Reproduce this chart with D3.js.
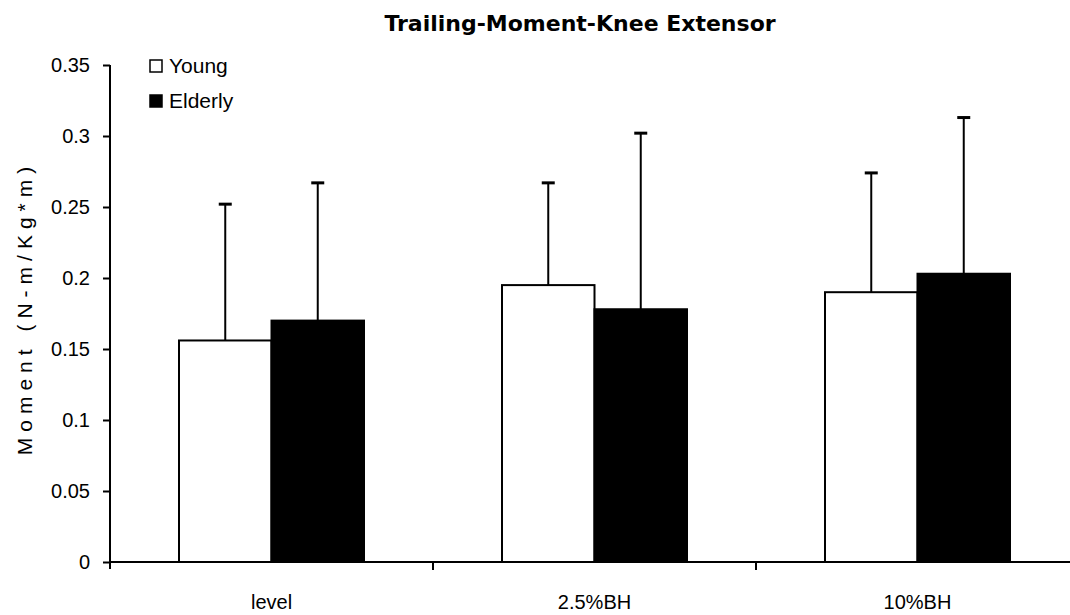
<!DOCTYPE html>
<html>
<head>
<meta charset="utf-8">
<script src="https://cdn.jsdelivr.net/npm/d3@7"></script>
<style>
  body { margin: 0; background: #fff; }
  svg { display: block; }
</style>
</head>
<body>
<script>
// data
var categories = ["level", "2.5%BH", "10%BH"]
var series     = ["Young", "Elderly"]
var young      = [0.156, 0.195, 0.190]
var elderly    = [0.170, 0.178, 0.203]
var youngSD    = [0.096, 0.072, 0.084]
var elderlySD  = [0.097, 0.124, 0.110]
var yTicks     = [0, 0.05, 0.1, 0.15, 0.2, 0.25, 0.3, 0.35]
var fills      = { Young: "#fff", Elderly: "#000" }

var W = 1070, H = 615
var font = "'Liberation Sans', Arial, sans-serif"

var svg = d3.select("body").append("svg")
    .attr("width", W)
    .attr("height", H)

var x0 = d3.scaleBand().domain(categories).range([110, 1079]).padding(0)
var x1 = d3.scaleBand().domain(series).range([0, x0.bandwidth()])
    .paddingInner(0).paddingOuter(0.746)
var y = d3.scaleLinear().domain([0, 0.35]).range([562, 65])

var rows = []
categories.forEach(function(c, i) {
    rows.push({ cat: c, s: "Young", v: young[i], sd: youngSD[i] })
    rows.push({ cat: c, s: "Elderly", v: elderly[i], sd: elderlySD[i] })
})

// error bars (drawn first so the bar outline sits on top)
var eb = svg.append("g").selectAll("g").data(rows).enter().append("g")
eb.append("line")
    .attr("x1", function(d) { return x0(d.cat) + x1(d.s) + x1.bandwidth() / 2 })
    .attr("x2", function(d) { return x0(d.cat) + x1(d.s) + x1.bandwidth() / 2 })
    .attr("y1", function(d) { return y(d.v) })
    .attr("y2", function(d) { return y(d.v + d.sd) })
    .style("stroke", "#000").style("stroke-width", 2)
eb.append("line")
    .attr("x1", function(d) { return x0(d.cat) + x1(d.s) + x1.bandwidth() / 2 - 6.5 })
    .attr("x2", function(d) { return x0(d.cat) + x1(d.s) + x1.bandwidth() / 2 + 6.5 })
    .attr("y1", function(d) { return y(d.v + d.sd) })
    .attr("y2", function(d) { return y(d.v + d.sd) })
    .style("stroke", "#000").style("stroke-width", 3)

// bars
svg.append("g").selectAll("rect").data(rows).enter().append("rect")
    .attr("x", function(d) { return x0(d.cat) + x1(d.s) })
    .attr("y", function(d) { return y(d.v) })
    .attr("width", x1.bandwidth())
    .attr("height", function(d) { return y(0) - y(d.v) })
    .style("fill", function(d) { return fills[d.s] })
    .style("stroke", "#000")
    .style("stroke-width", 2)

// y axis
var yAxis = svg.append("g")
    .attr("transform", "translate(110,0)")
    .call(d3.axisLeft(y).tickValues(yTicks).tickSize(7).tickPadding(13)
        .tickFormat(function(d) { return d3.format("")(+d.toFixed(2)) }))
yAxis.select(".domain").attr("d", "M0," + (y(0) + 7) + "V" + y(0.35)).style("stroke-width", 2)
yAxis.selectAll(".tick line").style("stroke-width", 2)
yAxis.selectAll("text").attr("font-family", font).attr("font-size", "20px").attr("fill", "#000")

// x axis
var xAxis = svg.append("g")
    .attr("transform", "translate(0,562)")
    .call(d3.axisBottom(x0).tickSize(0).tickPadding(33))
xAxis.select(".domain").attr("d", "M110,0H1070").style("stroke-width", 2)
xAxis.selectAll("text").attr("font-family", font).attr("font-size", "20px").attr("fill", "#000")
xAxis.selectAll(".sep").data(categories.slice(1)).enter().append("line")
    .attr("class", "sep")
    .attr("x1", function(d) { return x0(d) }).attr("x2", function(d) { return x0(d) })
    .attr("y1", 0).attr("y2", 8)
    .style("stroke", "#000").style("stroke-width", 2)

// title
svg.append("text")
    .attr("x", 580).attr("y", 31)
    .attr("text-anchor", "middle")
    .attr("font-family", "'DejaVu Sans', sans-serif")
    .attr("font-weight", "bold")
    .attr("font-size", "22px")
    .text("Trailing-Moment-Knee Extensor")

// y axis title
svg.append("text")
    .attr("transform", "translate(32,308) rotate(-90)")
    .attr("text-anchor", "middle")
    .attr("font-family", font)
    .attr("font-size", "21px")
    .attr("letter-spacing", "6px")
    .text("Moment (N-m/Kg*m)")

// legend
var lg = svg.append("g").selectAll("g").data(series).enter().append("g")
    .attr("transform", function(d, i) { return "translate(150," + (60 + i * 35) + ")" })
lg.append("rect")
    .attr("width", 12).attr("height", 12)
    .style("fill", function(d) { return fills[d] })
    .style("stroke", "#000").style("stroke-width", 1.5)
lg.append("text")
    .attr("x", 19).attr("y", 13)
    .attr("font-family", font)
    .attr("font-size", "21px")
    .text(function(d) { return d })
</script>
</body>
</html>
